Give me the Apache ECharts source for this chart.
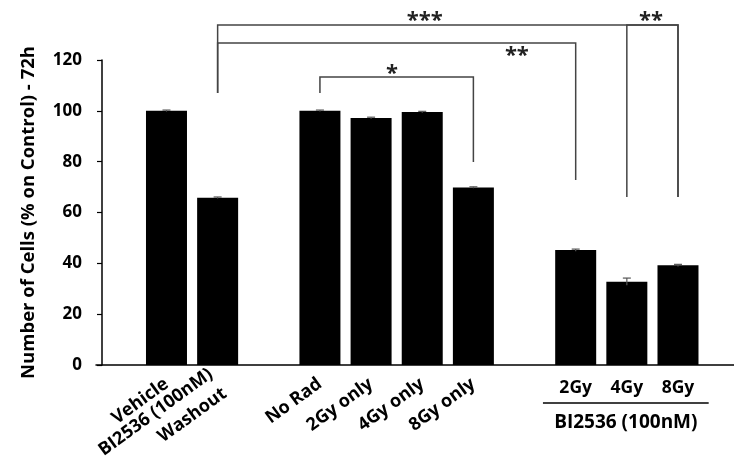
<!DOCTYPE html>
<html>
<head>
<meta charset="utf-8">
<script src="https://cdn.jsdelivr.net/npm/echarts@6/dist/echarts.min.js"></script>
<style>
html,body{margin:0;padding:0;background:#fff;}
#chart{width:734px;height:474px;}
</style>
</head>
<body>
<div id="chart"></div>
<script>
// ---- data ----
const categories = ['Vehicle', 'BI2536 (100nM)\nWashout', '', 'No Rad', '2Gy only', '4Gy only', '8Gy only', '', '2Gy', '4Gy', '8Gy'];
const values = [100, 65.8, null, 100, 97.2, 99.5, 69.8, null, 45.2, 32.8, 39.2];
const errors = [0.3, 0.3, null, 0.3, 0.3, 0.3, 0.3, null, 0.4, 1.4, 0.4];
const axisLabelIdx = [0, 3, 4, 5, 6];   // rotated labels drawn by the axis
const extraRotIdx = [1];                // rotated two-line label
const flatLabelIdx = [8, 9, 10];        // horizontal labels
const groupLabel = 'BI2536 (100nM)';
const groupSpan = [7.36, 10.6];
const yTitle = 'Number of Cells (% on Control) - 72h';
// significance brackets: from/to category index, top level and leg ends (in % units)
const brackets = [
  { from: 1, to: 10, top: 133.8, leftEnd: 107, rightEnd: 66.1, stars: '***', starX: 5.05, starY: 135.3 },
  { from: 9, to: 10, top: 133.8, leftEnd: 66.1, rightEnd: 66.1, stars: '**', starX: 9.47, starY: 135.3 },
  { from: 1, to: 8, top: 126.7, leftEnd: 107, rightEnd: 72.8, stars: '**', starX: 6.85, starY: 121.8 },
  { from: 3, to: 6, top: 113.3, leftEnd: 107, rightEnd: 79.9, stars: '*', starX: 4.41, starY: 114.5 }
];

const FONT = '"Open Sans", "Noto Sans", sans-serif';
const X0 = 1; // category index i sits at x = i + X0 on the value axis
const ROT = 36, ROT_MARGIN = 17;
const chart = echarts.init(document.getElementById('chart'));

const barData = [];
const errData = [];
values.forEach((v, i) => {
  if (v != null) {
    barData.push([i + X0, v]);
    errData.push([i + X0, v, errors[i]]);
  }
});

const xMin = -1.378 + X0, xMax = 11.095 + X0;
const yMin = 0, yMax = 120;
const labelOf = v => categories[Math.round(v) - X0];

const option = {
  animation: false,
  backgroundColor: '#fff',
  grid: { left: 96, right: 0, top: 60, bottom: 109, containLabel: false, outerBoundsMode: 'none' },
  xAxis: {
    type: 'value', min: xMin, max: xMax,
    axisLine: { show: true, onZero: false, lineStyle: { color: '#000', width: 1.5 } },
    axisTick: { show: false },
    splitLine: { show: false },
    axisLabel: {
      customValues: axisLabelIdx.map(i => i + X0),
      showMinLabel: true, showMaxLabel: true,
      formatter: labelOf,
      rotate: ROT, margin: ROT_MARGIN, hideOverlap: false,
      fontFamily: FONT, fontWeight: 'bold', fontSize: 18, color: '#000'
    }
  },
  yAxis: {
    type: 'value', min: yMin, max: yMax, interval: 20, offset: -6,
    axisLine: { show: true, onZero: false, lineStyle: { color: '#000', width: 1.5 } },
    axisTick: { show: true, length: 5, lineStyle: { color: '#000', width: 1.2 } },
    splitLine: { show: false },
    axisLabel: { fontFamily: FONT, fontWeight: 'bold', fontSize: 17, color: '#000', margin: 20 },
    name: yTitle, nameLocation: 'middle', nameRotate: 90, nameGap: 64,
    nameTextStyle: { fontFamily: FONT, fontWeight: 'bold', fontSize: 18.5, color: '#000' }
  },
  series: [
    {
      type: 'bar', data: barData, barWidth: 41,
      itemStyle: { color: '#000' }
    },
    {
      type: 'custom', data: errData, clip: false, z: 3,
      renderItem: (params, api) => {
        const x = api.value(0), v = api.value(1), e = api.value(2);
        const top = api.coord([x, v + e]);
        const bot = api.coord([x, v - e]);
        const cap = 4;
        return {
          type: 'group',
          children: [
            { type: 'line', shape: { x1: top[0], y1: top[1], x2: bot[0], y2: bot[1] }, style: { stroke: '#555', lineWidth: 1.2 } },
            { type: 'line', shape: { x1: top[0] - cap, y1: top[1], x2: top[0] + cap, y2: top[1] }, style: { stroke: '#555', lineWidth: 1.2 } }
          ]
        };
      }
    },
    {
      type: 'custom', data: brackets.map(b => [b.from + X0, b.top]), clip: false, z: 4,
      renderItem: (params, api) => {
        const b = brackets[params.dataIndex];
        const p = (x, y) => api.coord([x + X0, y]);
        const s = p(b.starX, b.starY);
        return {
          type: 'group',
          children: [
            {
              type: 'polyline',
              shape: { points: [p(b.from, b.leftEnd), p(b.from, b.top), p(b.to, b.top), p(b.to, b.rightEnd)] },
              style: { stroke: '#444', lineWidth: 1.5, fill: null }
            },
            {
              type: 'text', x: s[0], y: s[1],
              style: { text: b.stars, fill: '#222', font: 'bold 22px ' + FONT, align: 'center', verticalAlign: 'middle' }
            }
          ]
        };
      }
    },
    {
      // remaining category labels, group underline and group title, placed from the x scale
      type: 'custom', data: [[groupSpan[0] + X0, 0]], clip: false, z: 4,
      renderItem: (params, api) => {
        const a = api.coord([groupSpan[0] + X0, 0]);
        const b = api.coord([groupSpan[1] + X0, 0]);
        const axisY = a[1];
        const ly = axisY + 38;
        const children = [];
        extraRotIdx.forEach(i => {
          const c = api.coord([i + X0, 0]);
          children.push({
            type: 'text', x: c[0], y: axisY + ROT_MARGIN, rotation: ROT * Math.PI / 180,
            style: { text: categories[i], fill: '#000', font: 'bold 18px ' + FONT, lineHeight: 24, align: 'right', verticalAlign: 'middle' }
          });
        });
        flatLabelIdx.forEach(i => {
          const c = api.coord([i + X0, 0]);
          children.push({
            type: 'text', x: c[0], y: axisY + 14,
            style: { text: categories[i], fill: '#000', font: 'bold 17.5px ' + FONT, align: 'center', verticalAlign: 'top' }
          });
        });
        children.push({ type: 'line', shape: { x1: a[0], y1: ly, x2: b[0], y2: ly }, style: { stroke: '#000', lineWidth: 1.5 } });
        children.push({ type: 'text', x: (a[0] + b[0]) / 2, y: ly + 20, style: { text: groupLabel, fill: '#000', font: 'bold 19px ' + FONT, align: 'center', verticalAlign: 'middle' } });
        return { type: 'group', children };
      }
    }
  ]
};
chart.setOption(option);
</script>
</body>
</html>
